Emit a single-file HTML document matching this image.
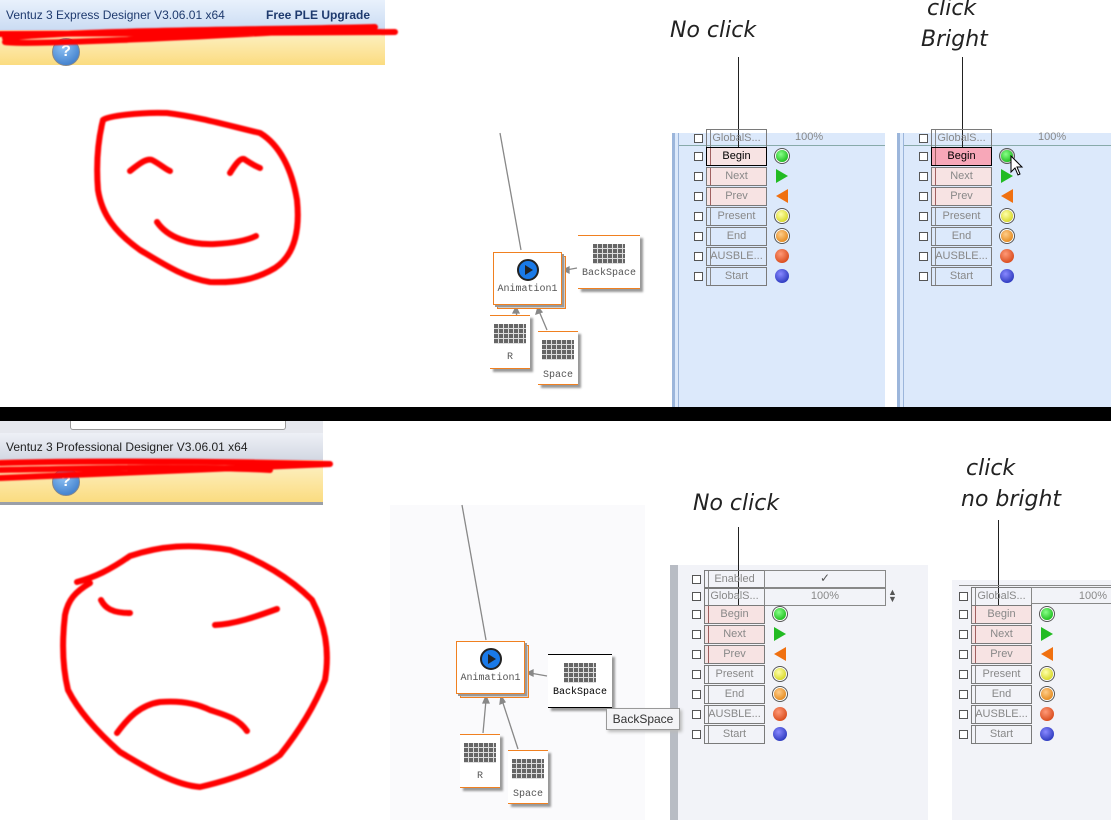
<!DOCTYPE html>
<html><head><meta charset="utf-8"><style>
body{margin:0;width:1111px;height:827px;position:relative;overflow:hidden;background:#fff;font-family:"Liberation Sans",sans-serif}
.a{position:absolute}
.btn{position:absolute;width:59px;height:17px;border:1px solid #7a7a7a;font-size:11px;color:#888;text-align:center;line-height:17px;box-sizing:content-box}
.btn:before{content:"";position:absolute;left:3px;top:0;bottom:0;border-left:1px solid #888}
.pk{background:#f7e3e3}
.pk:before{border-color:#a06060}
.cb{position:absolute;width:7px;height:7px;border:1px solid #555;background:#fff}
.ic{position:absolute;width:12px;height:12px;border-radius:50%}
.node{position:absolute;background:#fff;box-shadow:3px 3px 2px #999;font-family:"Liberation Mono",monospace;font-size:10px;color:#555;text-align:center}
.kb{margin:8px auto 0;width:32px;height:20px;background:repeating-linear-gradient(0deg,#ddd 0 1px,transparent 1px 5px),repeating-linear-gradient(90deg,#666 0 4px,#ddd 4px 5px)}
.hand{position:absolute;font-family:"DejaVu Sans",sans-serif;font-style:italic;font-size:22px;color:#222;font-weight:300}
</style></head><body>

<div class="a" style="left:0;top:0;width:385px;height:30px;background:linear-gradient(#e9f1fc,#cbdcf3)"></div>
<div class="a" style="left:0;top:30px;width:385px;height:35px;background:linear-gradient(#fdf2c8,#fbdc80)"></div>
<div class="a" style="left:6px;top:8px;font-size:12px;color:#1e3a6e">Ventuz 3 Express Designer V3.06.01 x64</div>
<div class="a" style="left:266px;top:8px;font-size:12px;color:#1e3a6e;font-weight:bold">Free PLE Upgrade</div>
<div class="a" style="left:52px;top:38px;width:26px;height:26px;border-radius:50%;background:radial-gradient(circle at 40% 30%,#8fc3f5,#2e6fc2);border:1px solid #888;color:#fff;font-weight:bold;text-align:center;line-height:26px;font-size:16px">?</div>

<div class="a" style="left:0;top:421px;width:323px;height:12px;background:#e6e8ee"></div>
<div class="a" style="left:70px;top:421px;width:214px;height:8px;background:#fff;border:1px solid #999;border-top:none;border-radius:0 0 3px 3px"></div>
<div class="a" style="left:0;top:433px;width:323px;height:27px;background:linear-gradient(#eef0f6,#d3d8e3)"></div>
<div class="a" style="left:0;top:460px;width:323px;height:42px;background:linear-gradient(#fdf2c8,#fbdc80)"></div>
<div class="a" style="left:0;top:502px;width:323px;height:3px;background:#9a9fa8"></div>
<div class="a" style="left:6px;top:440px;font-size:12px;color:#222">Ventuz 3 Professional Designer V3.06.01 x64</div>
<div class="a" style="left:52px;top:468px;width:26px;height:26px;border-radius:50%;background:radial-gradient(circle at 40% 30%,#8fc3f5,#2e6fc2);border:1px solid #888;color:#fff;font-weight:bold;text-align:center;line-height:26px;font-size:16px">?</div>

<div class="a" style="left:0;top:407px;width:1111px;height:14px;background:#000"></div>

<div class="a" style="left:390px;top:505px;width:255px;height:315px;background:#fafafc"></div>

<div class="a" style="left:672px;top:133px;width:210px;height:274px;background:#dce9fb;border-left:3px solid #9cb6db"></div>
<div class="a" style="left:678px;top:133px;width:1px;height:274px;background:#9cb6db"></div>
<div class="a" style="left:679px;top:145px;width:206px;height:1px;background:#8aa"></div>
<div class="a" style="left:897px;top:133px;width:214px;height:274px;background:#dce9fb;border-left:3px solid #9cb6db"></div>
<div class="a" style="left:903px;top:133px;width:1px;height:274px;background:#9cb6db"></div>
<div class="a" style="left:904px;top:145px;width:207px;height:1px;background:#8aa"></div>

<div class="a" style="left:670px;top:565px;width:258px;height:255px;background:#f2f3f8;border-left:8px solid #b8bcc4;box-sizing:border-box"></div>
<div class="a" style="left:952px;top:580px;width:159px;height:240px;background:#f2f3f8"></div>

<svg class="a" style="left:0;top:0" width="1111" height="827">
<defs><filter id="bl"><feGaussianBlur stdDeviation="0.8"/></filter></defs>
<g fill="none" stroke="#f00" stroke-width="6" stroke-linecap="round" stroke-linejoin="round" filter="url(#bl)">
<path d="M5,38 C80,30 250,30 375,27 C300,31 200,37 120,40 C70,42 20,44 5,42 M0,34 L395,32"/>
<path d="M0,463 C100,460 250,462 330,464 C250,468 150,472 0,478 M0,470 C100,468 200,466 270,470"/>
<path d="M103,120 C108,116 140,112 167,113 C200,117 230,126 260,133 C280,145 292,170 297,200 C300,230 295,255 275,268 C255,280 235,283 210,282 C185,278 165,265 140,250 C115,232 102,215 98,190 C96,165 98,140 103,120"/>
<path d="M130,171 C140,163 147,158 152,160 C160,164 165,169 170,171"/>
<path d="M230,173 C235,165 240,158 244,159 C250,163 255,166 260,168"/>
<path d="M157,222 C168,238 190,245 215,244 C235,243 248,240 256,236"/>
<path d="M77,582 C95,577 110,570 130,556 C160,546 190,543 230,550 C260,560 290,578 312,600 C325,625 330,650 325,680 C315,705 300,730 280,755 C260,770 230,780 200,787 C175,785 150,770 120,752 C95,730 78,710 68,690 C62,665 62,640 65,615 C68,600 75,592 90,583"/>
<path d="M101,600 C105,608 112,613 130,613"/>
<path d="M215,625 C235,624 255,617 277,609"/>
<path d="M117,733 C128,718 140,705 160,702 C185,700 200,705 210,710 C225,715 238,718 247,731"/>
</g>
<g stroke="#222" stroke-width="1">
<line x1="738.5" y1="57" x2="738.5" y2="150"/>
<line x1="962.5" y1="57" x2="962.5" y2="147"/>
<line x1="738.5" y1="527" x2="738.5" y2="608"/>
<line x1="998.5" y1="520" x2="998.5" y2="608"/>
</g>
<g stroke="#888" stroke-width="1.3" fill="#888">
<line x1="500" y1="133" x2="521" y2="250"/>
<line x1="577" y1="268" x2="566" y2="270"/><polygon points="563,270 569,267 569,273"/>
<line x1="519" y1="330" x2="516" y2="311"/><polygon points="516,307 513,313 519,313"/>
<line x1="547" y1="330" x2="539" y2="311"/><polygon points="538,307 536,314 542,312"/>
<line x1="462" y1="505" x2="486" y2="640"/>
<line x1="547" y1="676" x2="530" y2="673"/><polygon points="527,673 533,670 533,676"/>
<line x1="483" y1="733" x2="486" y2="700"/><polygon points="486,696 483,703 489,703"/>
<line x1="518" y1="749" x2="502" y2="700"/><polygon points="501,696 500,704 505,702"/>
</g>
</svg>

<div class="hand" style="left:670px;top:18px">No click</div>
<div class="hand" style="left:927px;top:-4px">click</div>
<div class="hand" style="left:921px;top:27px">Bright</div>
<div class="hand" style="left:693px;top:491px">No click</div>
<div class="hand" style="left:966px;top:456px">click</div>
<div class="hand" style="left:961px;top:487px">no bright</div>

<div class="node" style="left:497px;top:256px;width:67px;height:51px;border:1px solid #f08020;box-shadow:none;background:#ccc"></div>
<div class="node" style="left:493px;top:252px;width:67px;height:51px;border:1px solid #f08020;box-shadow:2px 2px 0 #999">
<div style="margin:6px auto 0;width:18px;height:18px;border-radius:50%;border:2px solid #222;background:#1a7ae8;position:relative"><div style="position:absolute;left:6px;top:4px;border-left:8px solid #222;border-top:5px solid transparent;border-bottom:5px solid transparent"></div></div>
<div style="margin-top:3px">Animation1</div></div>
<div class="node" style="left:578px;top:235px;width:62px;height:52px;border-top:1px solid #f08020;border-bottom:1px solid #f08020"><div class="kb"></div><div style="margin-top:4px">BackSpace</div></div>
<div class="node" style="left:490px;top:315px;width:40px;height:52px;border-top:1px solid #f08020;border-bottom:1px solid #f08020"><div class="kb"></div><div style="margin-top:8px">R</div></div>
<div class="node" style="left:538px;top:331px;width:40px;height:52px;border-top:1px solid #f08020;border-bottom:1px solid #f08020"><div class="kb"></div><div style="margin-top:10px">Space</div></div>

<div class="node" style="left:460px;top:645px;width:67px;height:51px;border:1px solid #f08020;box-shadow:none;background:#ccc"></div>
<div class="node" style="left:456px;top:641px;width:67px;height:51px;border:1px solid #f08020;box-shadow:2px 2px 0 #999">
<div style="margin:6px auto 0;width:18px;height:18px;border-radius:50%;border:2px solid #222;background:#1a7ae8;position:relative"><div style="position:absolute;left:6px;top:4px;border-left:8px solid #222;border-top:5px solid transparent;border-bottom:5px solid transparent"></div></div>
<div style="margin-top:3px">Animation1</div></div>
<div class="node" style="left:548px;top:654px;width:64px;height:52px;border-top:1px solid #000;border-bottom:1px solid #000;color:#000"><div class="kb"></div><div style="margin-top:4px">BackSpace</div></div>
<div class="a" style="left:606px;top:708px;width:72px;height:20px;border:1px solid #999;background:#f4f4f6;font-size:12px;color:#333;line-height:20px;text-align:center;box-shadow:2px 2px 3px #bbb">BackSpace</div>
<div class="node" style="left:460px;top:734px;width:40px;height:52px;border-top:1px solid #f08020;border-bottom:1px solid #f08020"><div class="kb"></div><div style="margin-top:8px">R</div></div>
<div class="node" style="left:508px;top:750px;width:40px;height:52px;border-top:1px solid #f08020;border-bottom:1px solid #f08020"><div class="kb"></div><div style="margin-top:10px">Space</div></div>

<div class="cb" style="left:694px;top:134px"></div><div class="btn" style="left:706px;top:129px">GlobalS...</div><div class="a" style="left:795px;top:131px;font-size:11px;color:#888">100%</div>
<div class="cb" style="left:694px;top:152px"></div><div class="btn pk" style="left:706px;top:147px;border-color:#000;color:#000">Begin</div>
<div class="cb" style="left:694px;top:172px"></div><div class="btn pk" style="left:706px;top:167px">Next</div>
<div class="cb" style="left:694px;top:192px"></div><div class="btn pk" style="left:706px;top:187px">Prev</div>
<div class="cb" style="left:694px;top:212px"></div><div class="btn" style="left:706px;top:207px">Present</div>
<div class="cb" style="left:694px;top:232px"></div><div class="btn" style="left:706px;top:227px">End</div>
<div class="cb" style="left:694px;top:252px"></div><div class="btn" style="left:706px;top:247px">AUSBLE...</div>
<div class="cb" style="left:694px;top:272px"></div><div class="btn" style="left:706px;top:267px">Start</div>
<div class="ic" style="left:776px;top:150px;background:radial-gradient(circle at 40% 35%,#8f8,#0a0);box-shadow:0 0 0 1px #fff,0 0 0 2px #555"></div>
<div class="a" style="left:776px;top:169px;border-left:12px solid #2b2;border-top:7px solid transparent;border-bottom:7px solid transparent"></div>
<div class="a" style="left:776px;top:189px;border-right:12px solid #f07010;border-top:7px solid transparent;border-bottom:7px solid transparent"></div>
<div class="ic" style="left:776px;top:210px;background:radial-gradient(circle at 40% 35%,#ffa,#cc0);box-shadow:0 0 0 1px #fff,0 0 0 2px #555"></div>
<div class="ic" style="left:776px;top:230px;background:radial-gradient(circle at 40% 35%,#fc8,#d70);box-shadow:0 0 0 1px #fff,0 0 0 2px #555"></div>
<div class="ic" style="left:775px;top:249px;width:14px;height:14px;background:radial-gradient(circle at 40% 35%,#f97,#c30)"></div>
<div class="ic" style="left:775px;top:269px;width:14px;height:14px;background:radial-gradient(circle at 40% 35%,#88f,#12a)"></div>

<div class="cb" style="left:919px;top:134px"></div><div class="btn" style="left:931px;top:129px">GlobalS...</div><div class="a" style="left:1038px;top:131px;font-size:11px;color:#888">100%</div>
<div class="cb" style="left:919px;top:152px"></div><div class="btn pk" style="left:931px;top:147px;border-color:#000;color:#000;background:#f7a7b8">Begin</div>
<div class="cb" style="left:919px;top:172px"></div><div class="btn pk" style="left:931px;top:167px">Next</div>
<div class="cb" style="left:919px;top:192px"></div><div class="btn pk" style="left:931px;top:187px">Prev</div>
<div class="cb" style="left:919px;top:212px"></div><div class="btn" style="left:931px;top:207px">Present</div>
<div class="cb" style="left:919px;top:232px"></div><div class="btn" style="left:931px;top:227px">End</div>
<div class="cb" style="left:919px;top:252px"></div><div class="btn" style="left:931px;top:247px">AUSBLE...</div>
<div class="cb" style="left:919px;top:272px"></div><div class="btn" style="left:931px;top:267px">Start</div>
<div class="ic" style="left:1001px;top:150px;background:radial-gradient(circle at 40% 35%,#8f8,#0a0);box-shadow:0 0 0 1px #ccc,0 0 0 2px #555"></div>
<div class="a" style="left:1001px;top:169px;border-left:12px solid #2b2;border-top:7px solid transparent;border-bottom:7px solid transparent"></div>
<div class="a" style="left:1001px;top:189px;border-right:12px solid #f07010;border-top:7px solid transparent;border-bottom:7px solid transparent"></div>
<div class="ic" style="left:1001px;top:210px;background:radial-gradient(circle at 40% 35%,#ffa,#cc0);box-shadow:0 0 0 1px #fff,0 0 0 2px #555"></div>
<div class="ic" style="left:1001px;top:230px;background:radial-gradient(circle at 40% 35%,#fc8,#d70);box-shadow:0 0 0 1px #fff,0 0 0 2px #555"></div>
<div class="ic" style="left:1000px;top:249px;width:14px;height:14px;background:radial-gradient(circle at 40% 35%,#f97,#c30)"></div>
<div class="ic" style="left:1000px;top:269px;width:14px;height:14px;background:radial-gradient(circle at 40% 35%,#88f,#12a)"></div>
<svg class="a" style="left:1010px;top:155px" width="14" height="22"><path d="M1,1 L1,17 L5,13 L8,20 L10,19 L7,12 L12,12 Z" fill="#fff" stroke="#000"/></svg>

<div class="cb" style="left:692px;top:575px"></div><div class="btn" style="left:704px;top:570px">Enabled</div><div class="a" style="left:764px;top:570px;width:120px;height:17px;border:1px solid #888;text-align:center;font-size:12px;color:#555">✓</div>
<div class="cb" style="left:692px;top:592px"></div><div class="btn" style="left:704px;top:587px">GlobalS...</div><div class="a" style="left:764px;top:587px;width:120px;height:17px;border:1px solid #888;text-align:center;font-size:11px;color:#888;line-height:17px">100%</div>
<div class="a" style="left:888px;top:589px;font-size:9px;color:#555;line-height:7px">▲<br>▼</div>
<div class="cb" style="left:692px;top:610px"></div><div class="btn pk" style="left:704px;top:605px">Begin</div>
<div class="cb" style="left:692px;top:630px"></div><div class="btn pk" style="left:704px;top:625px">Next</div>
<div class="cb" style="left:692px;top:650px"></div><div class="btn pk" style="left:704px;top:645px">Prev</div>
<div class="cb" style="left:692px;top:670px"></div><div class="btn" style="left:704px;top:665px">Present</div>
<div class="cb" style="left:692px;top:690px"></div><div class="btn" style="left:704px;top:685px">End</div>
<div class="cb" style="left:692px;top:710px"></div><div class="btn" style="left:704px;top:705px">AUSBLE...</div>
<div class="cb" style="left:692px;top:730px"></div><div class="btn" style="left:704px;top:725px">Start</div>
<div class="ic" style="left:774px;top:608px;background:radial-gradient(circle at 40% 35%,#8f8,#0a0);box-shadow:0 0 0 1px #fff,0 0 0 2px #555"></div>
<div class="a" style="left:774px;top:627px;border-left:12px solid #2b2;border-top:7px solid transparent;border-bottom:7px solid transparent"></div>
<div class="a" style="left:774px;top:647px;border-right:12px solid #f07010;border-top:7px solid transparent;border-bottom:7px solid transparent"></div>
<div class="ic" style="left:774px;top:668px;background:radial-gradient(circle at 40% 35%,#ffa,#cc0);box-shadow:0 0 0 1px #fff,0 0 0 2px #555"></div>
<div class="ic" style="left:774px;top:688px;background:radial-gradient(circle at 40% 35%,#fc8,#d70);box-shadow:0 0 0 1px #fff,0 0 0 2px #555"></div>
<div class="ic" style="left:773px;top:707px;width:14px;height:14px;background:radial-gradient(circle at 40% 35%,#f97,#c30)"></div>
<div class="ic" style="left:773px;top:727px;width:14px;height:14px;background:radial-gradient(circle at 40% 35%,#88f,#12a)"></div>

<div class="cb" style="left:959px;top:592px"></div><div class="btn" style="left:971px;top:587px">GlobalS...</div><div class="a" style="left:1031px;top:587px;width:80px;height:17px;border:1px solid #888;border-right:none;text-align:right;font-size:11px;color:#888;line-height:17px;padding-right:4px;box-sizing:border-box">100%</div>
<div class="a" style="left:959px;top:580px;width:152px;height:5px;border-bottom:1px solid #888"></div>
<div class="cb" style="left:959px;top:610px"></div><div class="btn pk" style="left:971px;top:605px">Begin</div>
<div class="cb" style="left:959px;top:630px"></div><div class="btn pk" style="left:971px;top:625px">Next</div>
<div class="cb" style="left:959px;top:650px"></div><div class="btn pk" style="left:971px;top:645px">Prev</div>
<div class="cb" style="left:959px;top:670px"></div><div class="btn" style="left:971px;top:665px">Present</div>
<div class="cb" style="left:959px;top:690px"></div><div class="btn" style="left:971px;top:685px">End</div>
<div class="cb" style="left:959px;top:710px"></div><div class="btn" style="left:971px;top:705px">AUSBLE...</div>
<div class="cb" style="left:959px;top:730px"></div><div class="btn" style="left:971px;top:725px">Start</div>
<div class="ic" style="left:1041px;top:608px;background:radial-gradient(circle at 40% 35%,#8f8,#0a0);box-shadow:0 0 0 1px #fff,0 0 0 2px #555"></div>
<div class="a" style="left:1041px;top:627px;border-left:12px solid #2b2;border-top:7px solid transparent;border-bottom:7px solid transparent"></div>
<div class="a" style="left:1041px;top:647px;border-right:12px solid #f07010;border-top:7px solid transparent;border-bottom:7px solid transparent"></div>
<div class="ic" style="left:1041px;top:668px;background:radial-gradient(circle at 40% 35%,#ffa,#cc0);box-shadow:0 0 0 1px #fff,0 0 0 2px #555"></div>
<div class="ic" style="left:1041px;top:688px;background:radial-gradient(circle at 40% 35%,#fc8,#d70);box-shadow:0 0 0 1px #fff,0 0 0 2px #555"></div>
<div class="ic" style="left:1040px;top:707px;width:14px;height:14px;background:radial-gradient(circle at 40% 35%,#f97,#c30)"></div>
<div class="ic" style="left:1040px;top:727px;width:14px;height:14px;background:radial-gradient(circle at 40% 35%,#88f,#12a)"></div>

</body></html>
